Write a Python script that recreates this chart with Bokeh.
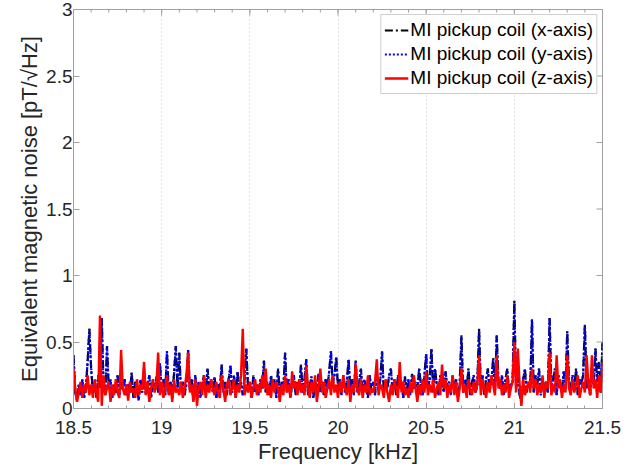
import numpy as np
from bokeh.plotting import figure
from bokeh.models import Range1d, FixedTicker
from bokeh.embed import file_html
from bokeh.resources import INLINE

# Frequency grid [kHz]
freq_khz = np.round(np.arange(18.50, 21.505, 0.01), 2)

x_axis_noise = [
    0.40, 0.12, 0.06, 0.18, 0.10, 0.22, 0.08, 0.15, 0.35, 0.60,
    0.30, 0.12, 0.20, 0.08, 0.25, 0.15, 0.68, 0.20, 0.10, 0.47,
    0.15, 0.22, 0.08, 0.18, 0.12, 0.25, 0.10, 0.20, 0.14, 0.22,
    0.10, 0.18, 0.12, 0.27, 0.08, 0.20, 0.15, 0.06, 0.22, 0.12,
    0.30, 0.10, 0.18, 0.25, 0.08, 0.20, 0.14, 0.24, 0.12, 0.34,
    0.15, 0.22, 0.10, 0.43, 0.12, 0.20, 0.08, 0.26, 0.47, 0.15,
    0.42, 0.12, 0.20, 0.10, 0.18, 0.44, 0.14, 0.22, 0.06, 0.25,
    0.12, 0.20, 0.08, 0.18, 0.25, 0.10, 0.30, 0.15, 0.22, 0.12,
    0.24, 0.08, 0.18, 0.14, 0.33, 0.12, 0.20, 0.10, 0.22, 0.32,
    0.12, 0.25, 0.08, 0.28, 0.15, 0.20, 0.10, 0.22, 0.45, 0.15,
    0.20, 0.08, 0.25, 0.12, 0.18, 0.10, 0.22, 0.15, 0.36, 0.12,
    0.20, 0.10, 0.25, 0.14, 0.22, 0.08, 0.30, 0.12, 0.20, 0.15,
    0.42, 0.12, 0.22, 0.08, 0.18, 0.25, 0.10, 0.20, 0.14, 0.33,
    0.12, 0.22, 0.37, 0.10, 0.18, 0.24, 0.08, 0.20, 0.15, 0.26,
    0.12, 0.20, 0.10, 0.22, 0.15, 0.28, 0.43, 0.18, 0.25, 0.39,
    0.15, 0.22, 0.10, 0.25, 0.12, 0.20, 0.37, 0.14, 0.22, 0.10,
    0.36, 0.12, 0.20, 0.30, 0.10, 0.22, 0.15, 0.08, 0.25, 0.12,
    0.20, 0.10, 0.28, 0.14, 0.22, 0.43, 0.12, 0.20, 0.15, 0.25,
    0.30, 0.12, 0.22, 0.10, 0.25, 0.15, 0.20, 0.08, 0.24, 0.14,
    0.22, 0.10, 0.26, 0.15, 0.20, 0.12, 0.30, 0.18, 0.10, 0.25,
    0.41, 0.15, 0.22, 0.45, 0.12, 0.30, 0.18, 0.10, 0.25, 0.20,
    0.12, 0.28, 0.15, 0.20, 0.10, 0.25, 0.14, 0.22, 0.08, 0.18,
    0.55, 0.12, 0.22, 0.15, 0.30, 0.10, 0.20, 0.25, 0.12, 0.18,
    0.60, 0.15, 0.25, 0.10, 0.22, 0.30, 0.14, 0.20, 0.38, 0.12,
    0.55, 0.20, 0.15, 0.25, 0.10, 0.22, 0.30, 0.12, 0.18, 0.20,
    0.81, 0.15, 0.25, 0.10, 0.05, 0.22, 0.30, 0.12, 0.20, 0.15,
    0.67, 0.12, 0.25, 0.18, 0.30, 0.10, 0.22, 0.15, 0.20, 0.12,
    0.68, 0.15, 0.22, 0.30, 0.10, 0.25, 0.18, 0.12, 0.28, 0.15,
    0.58, 0.20, 0.12, 0.25, 0.15, 0.30, 0.10, 0.22, 0.18, 0.25,
    0.63, 0.15, 0.22, 0.10, 0.30, 0.18, 0.45, 0.20, 0.35, 0.12,
    0.50,
]

# y-axis coil trace coincides with the x-axis trace in the picture
y_axis_noise = list(x_axis_noise)

z_axis_noise = [
    0.30, 0.15, 0.05, 0.12, 0.20, 0.08, 0.18, 0.12, 0.25, 0.10,
    0.18, 0.08, 0.22, 0.12, 0.05, 0.70, 0.02, 0.25, 0.10, 0.15,
    0.20, 0.05, 0.18, 0.10, 0.22, 0.12, 0.08, 0.44, 0.15, 0.10,
    0.18, 0.06, 0.20, 0.12, 0.15, 0.08, 0.22, 0.10, 0.18, 0.14,
    0.35, 0.10, 0.20, 0.05, 0.15, 0.22, 0.12, 0.18, 0.42, 0.10,
    0.20, 0.08, 0.15, 0.25, 0.10, 0.18, 0.05, 0.22, 0.12, 0.15,
    0.10, 0.20, 0.08, 0.15, 0.25, 0.42, 0.12, 0.18, 0.05, 0.22,
    0.02, 0.15, 0.20, 0.10, 0.25, 0.08, 0.18, 0.12, 0.22, 0.15,
    0.10, 0.20, 0.12, 0.08, 0.25, 0.15, 0.05, 0.18, 0.22, 0.10,
    0.15, 0.22, 0.08, 0.18, 0.12, 0.25, 0.60, 0.10, 0.18, 0.12,
    0.20, 0.08, 0.15, 0.22, 0.10, 0.18, 0.12, 0.25, 0.15, 0.30,
    0.10, 0.18, 0.08, 0.22, 0.12, 0.20, 0.15, 0.05, 0.18, 0.10,
    0.25, 0.12, 0.18, 0.08, 0.28, 0.15, 0.20, 0.10, 0.22, 0.12,
    0.18, 0.10, 0.32, 0.15, 0.08, 0.20, 0.12, 0.25, 0.05, 0.15,
    0.30, 0.12, 0.20, 0.08, 0.15, 0.22, 0.10, 0.25, 0.12, 0.18,
    0.08, 0.20, 0.12, 0.25, 0.15, 0.10, 0.22, 0.05, 0.18, 0.12,
    0.33, 0.15, 0.10, 0.22, 0.08, 0.18, 0.12, 0.25, 0.10, 0.15,
    0.12, 0.20, 0.37, 0.10, 0.18, 0.15, 0.08, 0.22, 0.12, 0.05,
    0.18, 0.10, 0.22, 0.15, 0.08, 0.35, 0.12, 0.20, 0.10, 0.15,
    0.08, 0.20, 0.12, 0.25, 0.15, 0.05, 0.18, 0.10, 0.22, 0.12,
    0.28, 0.10, 0.18, 0.12, 0.22, 0.08, 0.15, 0.20, 0.10, 0.33,
    0.15, 0.22, 0.08, 0.18, 0.12, 0.25, 0.10, 0.20, 0.05, 0.15,
    0.30, 0.12, 0.18, 0.08, 0.22, 0.15, 0.10, 0.20, 0.12, 0.18,
    0.40, 0.10, 0.22, 0.15, 0.08, 0.20, 0.12, 0.25, 0.18, 0.10,
    0.40, 0.15, 0.22, 0.10, 0.18, 0.12, 0.25, 0.08, 0.15, 0.20,
    0.50, 0.12, 0.45, 0.18, 0.02, 0.22, 0.10, 0.15, 0.20, 0.12,
    0.30, 0.15, 0.22, 0.10, 0.18, 0.12, 0.25, 0.08, 0.20, 0.15,
    0.42, 0.10, 0.18, 0.12, 0.40, 0.15, 0.22, 0.08, 0.18, 0.12,
    0.40, 0.15, 0.10, 0.22, 0.12, 0.18, 0.25, 0.08, 0.15, 0.20,
    0.12, 0.40, 0.18, 0.10, 0.40, 0.15, 0.22, 0.08, 0.25, 0.12,
    0.35,
]

series_labels = ["MI pickup coil (x-axis)", "MI pickup coil (y-axis)", "MI pickup coil (z-axis)"]
x_ticks = [18.5, 19, 19.5, 20, 20.5, 21, 21.5]
x_minor_ticks = [round(18.5 + 0.1 * i, 1) for i in range(31)]
y_ticks = [0, 0.5, 1, 1.5, 2, 2.5, 3]
x_min, x_max, y_min, y_max = 18.5, 21.5, 0, 3

FONT = "Liberation Sans"
TXT = "#262626"
AX = "#a0a0a0"

p = figure(width=635, height=468, output_backend="svg", toolbar_location=None,
           x_range=Range1d(x_min, x_max), y_range=Range1d(y_min, y_max),
           min_border_left=73, min_border_right=33, min_border_top=9, min_border_bottom=60)
p.outline_line_color = AX
p.background_fill_color = "white"
p.border_fill_color = "white"

p.line(freq_khz, x_axis_noise, color="black", line_width=2.2, line_dash="8 3 2 3",
       legend_label=series_labels[0])
p.line(freq_khz, y_axis_noise, color="blue", line_width=2.2, line_dash="2 2",
       legend_label=series_labels[1])
p.line(freq_khz, z_axis_noise, color="red", line_width=2.4, legend_label=series_labels[2])

# inward ticks on the top and right edges of the box (MATLAB "box on")
p.ray(x=x_ticks, y=[y_max] * len(x_ticks), length=6, length_units="screen",
      angle=-np.pi / 2, color=AX, line_width=1)
p.ray(x=x_minor_ticks, y=[y_max] * len(x_minor_ticks), length=3, length_units="screen",
      angle=-np.pi / 2, color=AX, line_width=1)
p.ray(x=[x_max] * len(y_ticks), y=y_ticks, length=6, length_units="screen",
      angle=np.pi, color=AX, line_width=1)

for ax in (p.xaxis[0], p.yaxis[0]):
    ax.axis_line_color = AX
    ax.major_tick_line_color = AX
    ax.minor_tick_line_color = AX
    ax.major_tick_in = 6
    ax.major_tick_out = 0
    ax.minor_tick_in = 3
    ax.minor_tick_out = 0
    ax.major_label_text_font = FONT
    ax.major_label_text_color = TXT
    ax.major_label_text_font_size = "19px"
    ax.axis_label_text_font = FONT
    ax.axis_label_text_color = TXT
    ax.axis_label_text_font_style = "normal"
    ax.axis_label_text_font_size = "22px"

xa = p.xaxis[0]
ya = p.yaxis[0]
xa.ticker = FixedTicker(ticks=x_ticks, minor_ticks=x_minor_ticks)
ya.ticker = FixedTicker(ticks=y_ticks)
ya.minor_tick_line_color = None
xa.major_label_standoff = 12
ya.major_label_standoff = 1
xa.axis_label = "Frequency [kHz]"
ya.axis_label = "Equivalent magnetic noise [pT/\u221aHz]"
xa.axis_label_standoff = 2
ya.axis_label_standoff = 1

p.xgrid.ticker = FixedTicker(ticks=x_ticks)
p.xgrid.grid_line_color = "#c8c8c8"
p.xgrid.grid_line_dash = "1 3"
p.xgrid.grid_line_width = 1
p.ygrid.grid_line_color = None

lg = p.legend[0]
lg.location = "top_right"
lg.margin = 5
lg.padding = 3
lg.spacing = 0
lg.label_height = 24
lg.glyph_height = 20
lg.glyph_width = 24
lg.label_standoff = 2
lg.label_text_font = FONT
lg.label_text_font_size = "19px"
lg.label_text_color = "black"
lg.border_line_color = AX
lg.border_line_width = 1
lg.background_fill_color = "white"
lg.background_fill_alpha = 1

open("out.html", "w").write(file_html(p, INLINE))
